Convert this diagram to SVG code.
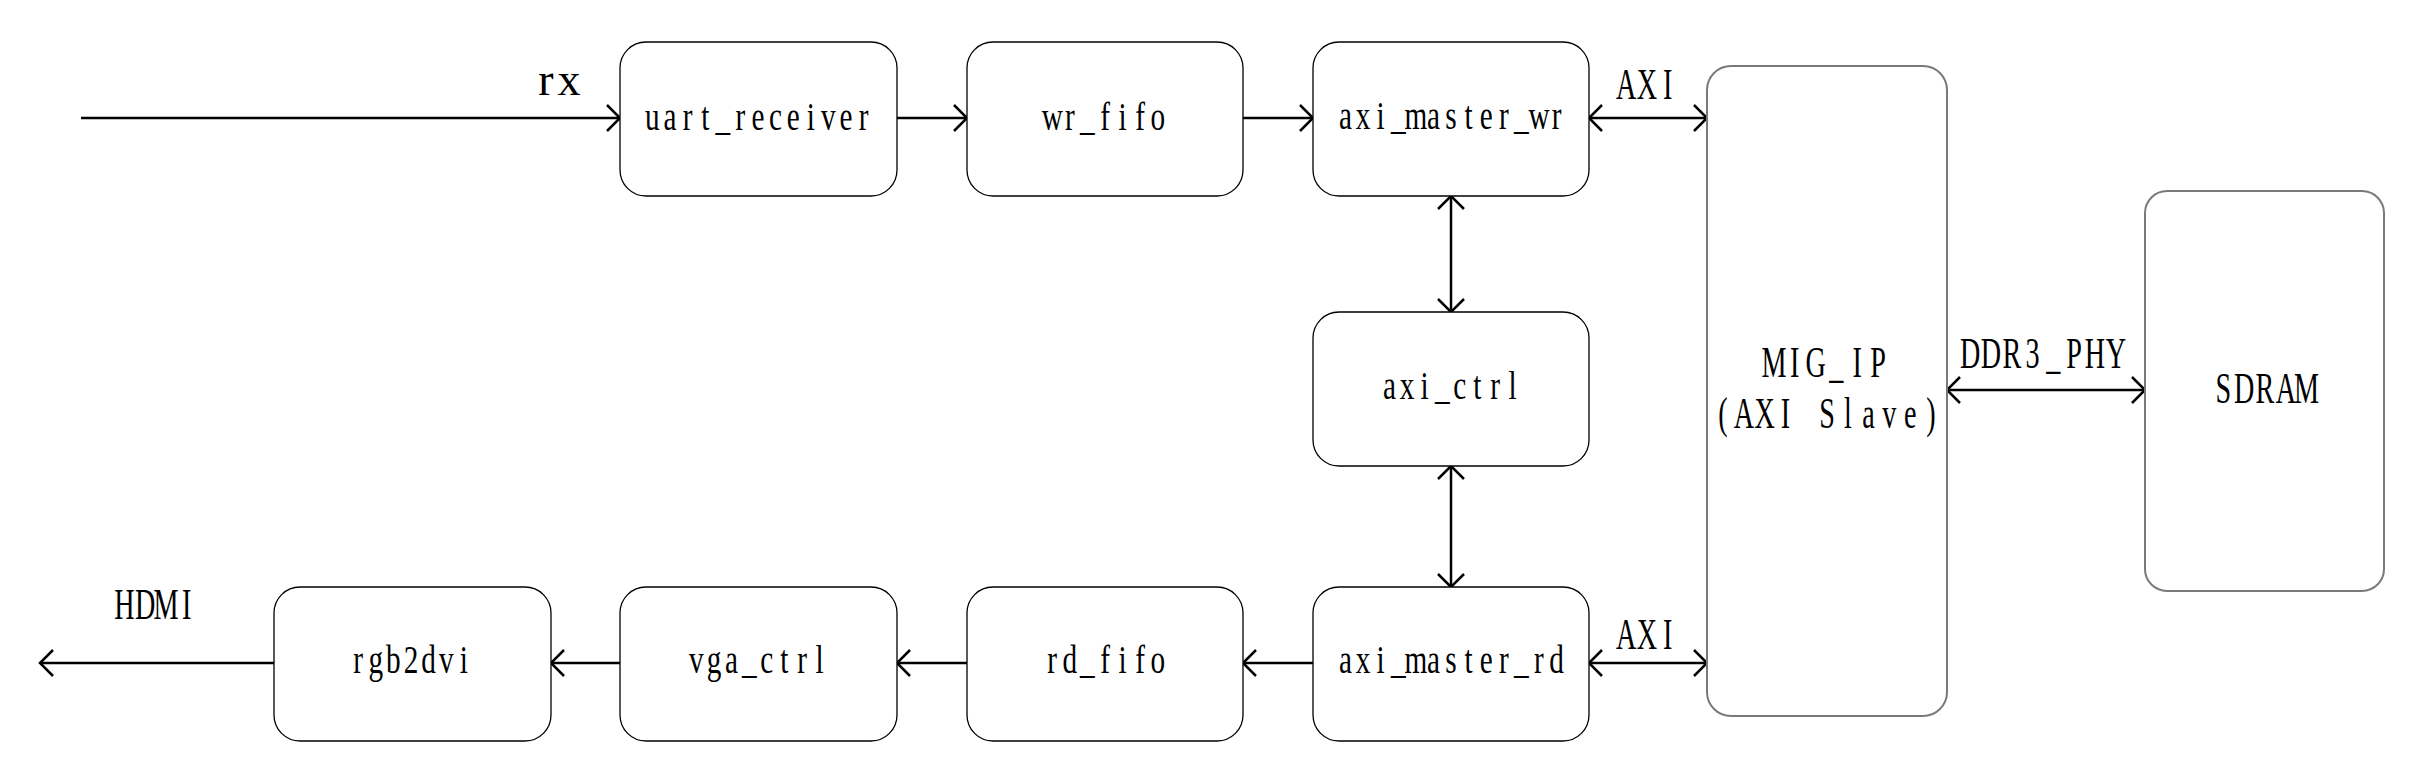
<svg xmlns="http://www.w3.org/2000/svg" width="2432" height="778" viewBox="0 0 2432 778">
<style>
.bg{fill:#fff}
.node{fill:#fff;stroke:#000;stroke-width:1.3}
.gnode{fill:#fff;stroke:#7a7a7a;stroke-width:2}
.t{font-family:"Liberation Serif","DejaVu Serif",serif;font-size:39px;fill:#000;text-anchor:middle}
.l{font-family:"Liberation Serif","DejaVu Serif",serif;font-size:44px;fill:#000;text-anchor:middle}
.c{fill:none;stroke:#000;stroke-width:2.5}
</style>
<defs>
<marker id="ah" viewBox="-18 -18 22 36" refX="0" refY="0" markerWidth="22" markerHeight="36" markerUnits="userSpaceOnUse" orient="auto-start-reverse">
<path d="M-13,-13 L0,0 L-13,13" fill="none" stroke="#000" stroke-width="2.5"/>
</marker>
</defs>
<rect class="bg" x="0" y="0" width="2432" height="778"/>
<g id="connectors">
<path class="c" d="M81,118 H620" marker-end="url(#ah)"/>
<path class="c" d="M897,118 H967" marker-end="url(#ah)"/>
<path class="c" d="M1243,118 H1313" marker-end="url(#ah)"/>
<path class="c" d="M1589,118 H1707" marker-start="url(#ah)" marker-end="url(#ah)"/>
<path class="c" d="M1451,196 V312" marker-start="url(#ah)" marker-end="url(#ah)"/>
<path class="c" d="M1451,466 V587" marker-start="url(#ah)" marker-end="url(#ah)"/>
<path class="c" d="M1589,663 H1707" marker-start="url(#ah)" marker-end="url(#ah)"/>
<path class="c" d="M1313,663 H1243" marker-end="url(#ah)"/>
<path class="c" d="M967,663 H897" marker-end="url(#ah)"/>
<path class="c" d="M620,663 H551" marker-end="url(#ah)"/>
<path class="c" d="M274,663 H40" marker-end="url(#ah)"/>
<path class="c" d="M1947,390 H2145" marker-start="url(#ah)" marker-end="url(#ah)"/>
<text class="l" style="font-size:46px" x="546 569" y="95">rx</text>
<text class="l" transform="translate(1647,99) scale(0.64,1)" x="-32.5 0 32.5" y="0">AXI</text>
<text class="l" transform="translate(1647,649) scale(0.64,1)" x="-32.5 0 32.5" y="0">AXI</text>
<text class="l" transform="translate(2043,368) scale(0.64,1)" x="-113.75 -81.25 -48.75 -16.25 16.25 48.75 81.25 113.75" y="0">DDR3_PHY</text>
<text class="l" transform="translate(155.5,619) scale(0.64,1)" x="-48.75 -16.25 16.25 48.75" y="0">HDMI</text>
</g>
<g id="uart_receiver">
<rect class="node" x="620" y="42" width="277" height="154" rx="26" ry="26"/>
<text class="t" transform="translate(758,130) scale(0.75,1)" x="-140.8 -117.33 -93.87 -70.4 -46.93 -23.47 0 23.47 46.93 70.4 93.87 117.33 140.8" y="0">uart_receiver</text>
</g>
<g id="wr_fifo">
<rect class="node" x="967" y="42" width="276" height="154" rx="26" ry="26"/>
<text class="t" transform="translate(1105,130) scale(0.75,1)" x="-70.4 -46.93 -23.47 0 23.47 46.93 70.4" y="0">wr_fifo</text>
</g>
<g id="axi_master_wr">
<rect class="node" x="1313" y="42" width="276" height="154" rx="26" ry="26"/>
<text class="t" transform="translate(1451,129) scale(0.75,1)" x="-140.8 -117.33 -93.87 -70.4 -46.93 -23.47 0 23.47 46.93 70.4 93.87 117.33 140.8" y="0">axi_master_wr</text>
</g>
<g id="axi_ctrl">
<rect class="node" x="1313" y="312" width="276" height="154" rx="26" ry="26"/>
<text class="t" transform="translate(1451,399) scale(0.75,1)" x="-82.13 -58.67 -35.2 -11.73 11.73 35.2 58.67 82.13" y="0">axi_ctrl</text>
</g>
<g id="axi_master_rd">
<rect class="node" x="1313" y="587" width="276" height="154" rx="26" ry="26"/>
<text class="t" transform="translate(1451,673) scale(0.75,1)" x="-140.8 -117.33 -93.87 -70.4 -46.93 -23.47 0 23.47 46.93 70.4 93.87 117.33 140.8" y="0">axi_master_rd</text>
</g>
<g id="rd_fifo">
<rect class="node" x="967" y="587" width="276" height="154" rx="26" ry="26"/>
<text class="t" transform="translate(1105,673) scale(0.75,1)" x="-70.4 -46.93 -23.47 0 23.47 46.93 70.4" y="0">rd_fifo</text>
</g>
<g id="vga_ctrl">
<rect class="node" x="620" y="587" width="277" height="154" rx="26" ry="26"/>
<text class="t" transform="translate(758,673) scale(0.75,1)" x="-82.13 -58.67 -35.2 -11.73 11.73 35.2 58.67 82.13" y="0">vga_ctrl</text>
</g>
<g id="rgb2dvi">
<rect class="node" x="274" y="587" width="277" height="154" rx="26" ry="26"/>
<text class="t" transform="translate(411,673) scale(0.75,1)" x="-70.4 -46.93 -23.47 0 23.47 46.93 70.4" y="0">rgb2dvi</text>
</g>
<g id="MIG_IP">
<rect class="gnode" x="1707" y="66" width="240" height="650" rx="24" ry="24"/>
<text class="l" transform="translate(1826,377) scale(0.64,1)" x="-81.25 -48.75 -16.25 16.25 48.75 81.25" y="0">MIG_IP</text>
<text class="l" transform="translate(1827,428) scale(0.64,1)" x="-162.5 -130 -97.5 -65 -32.5 0 32.5 65 97.5 130 162.5" y="0">(AXI Slave)</text>
</g>
<g id="SDRAM">
<rect class="gnode" x="2145" y="191" width="239" height="400" rx="22" ry="22"/>
<text class="l" transform="translate(2265,403) scale(0.64,1)" x="-65 -32.5 0 32.5 65" y="0">SDRAM</text>
</g>
</svg>
